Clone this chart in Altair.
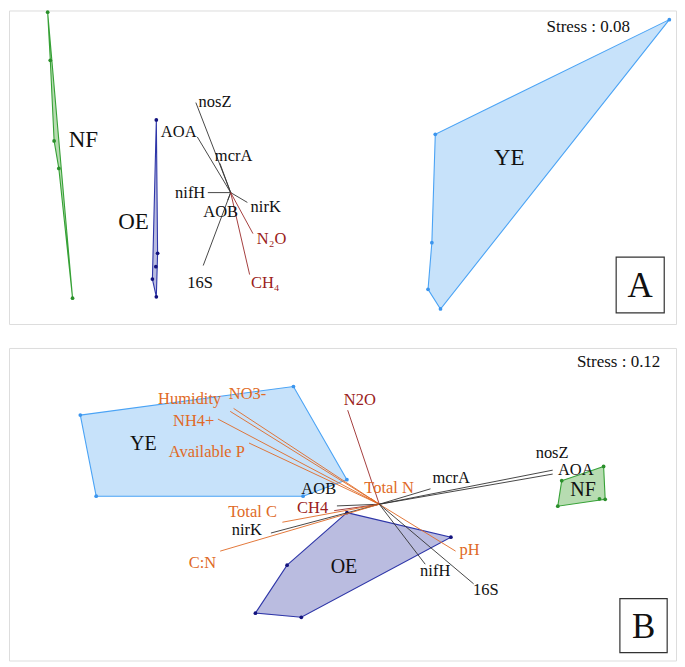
import altair as alt
import pandas as pd

FONT = "Liberation Serif"
ORANGE = "#e06a26"
DARKRED = "#9b1c20"
BLACK = "#111111"
VEC = "#333333"

# ---------------- Panel A (ordination coordinates, plot units) ----------------
a_groups = ["NF", "OE", "YE"]
a_nf_x = [42.4, 45.1, 49.0, 53.8, 67.8]
a_nf_y = [4.7, 53.7, 135.7, 163.7, 295.7]
a_oe_x = [153.2, 154.5, 152.7, 149.2, 153.2]
a_oe_y = [114.3, 250.0, 263.7, 276.3, 294.3]
a_ye_x = [676.2, 437.6, 434.1, 430.2, 442.9]
a_ye_y = [12.3, 129.0, 239.3, 286.7, 306.7]
a_hulls = {"NF": [0, 1, 2, 3, 4], "OE": [0, 1, 4, 3], "YE": [0, 4, 3, 2, 1]}
a_group_lx = [78.8, 130.0, 513.0]
a_group_ly = [135.0, 218.3, 152.7]

a_center = (229.0, 188.3)
a_vec_names = ["nosZ", "AOA", "mcrA", "nifH", "nirK", "AOB", "16S", "N₂O", "CH₄"]
a_vec_x = [193.5, 195.0, 218.0, 205.7, 246.0, 226.0, 201.0, 251.7, 248.3]
a_vec_y = [96.7, 131.7, 158.5, 188.3, 198.3, 196.0, 262.5, 230.0, 271.7]
a_vec_kind = ["gene"] * 7 + ["gas"] * 2
a_lab_x = [213.0, 176.0, 232.0, 187.7, 264.7, 218.8, 197.8, 270.7, 264.2]
a_lab_y = [96.0, 126.5, 151.0, 188.3, 203.3, 207.7, 280.0, 235.0, 280.0]

# ---------------- Panel B ----------------
b_groups = ["NF", "OE", "YE"]
b_nf_x = [566.5, 609.2, 610.8, 605.0, 562.5]
b_nf_y = [480.0, 465.5, 499.0, 498.5, 506.0]
b_oe_x = [347.5, 453.5, 301.0, 254.2, 286.5]
b_oe_y = [512.5, 537.5, 619.0, 614.8, 566.0]
b_ye_x = [75.7, 293.0, 347.5, 302.8, 91.9]
b_ye_y = [413.3, 384.2, 479.0, 495.8, 495.8]
b_hulls = {"NF": [0, 1, 2, 4], "OE": [0, 1, 2, 3, 4], "YE": [0, 1, 2, 3, 4]}
b_group_lx = [588.3, 344.5, 140.0]
b_group_ly = [490.0, 567.8, 442.7]

b_center = (380.5, 504.0)
b_vec_names = ["Humidity", "NO3-", "NH4+", "Available P", "N2O", "Total N", "mcrA",
               "nosZ", "AOA", "AOB", "CH4", "Total C", "nirK", "C:N", "pH", "nifH", "16S"]
b_vec_x = [228.5, 232.0, 216.0, 247.7, 348.3, 372.0, 432.7, 557.3, 557.3, 337.3,
           334.5, 281.7, 270.0, 218.3, 458.3, 427.3, 476.7]
b_vec_y = [409.5, 406.5, 417.3, 441.7, 408.3, 498.0, 488.3, 469.3, 473.3, 505.7,
           510.5, 522.3, 533.3, 551.7, 551.7, 565.0, 585.0]
b_vec_kind = ["env", "env", "env", "env", "gas", "env", "gene", "gene", "gene", "gene",
              "gas", "env", "gene", "env", "env", "gene", "gene"]
b_lab_x = [187.2, 246.2, 191.3, 204.7, 360.7, 390.5, 453.8, 556.7, 580.8, 318.8,
           312.5, 251.3, 245.5, 200.3, 472.5, 437.5, 489.2]
b_lab_y = [396.7, 392.3, 419.3, 451.0, 398.3, 487.3, 477.3, 451.7, 469.3, 488.5,
           508.0, 511.7, 530.7, 563.3, 550.7, 571.7, 591.7]

GROUP_STYLE = {
    "NF": {"stroke": "#36a136", "fill": "#b7dcb1", "pt": "#2a8f2a"},
    "OE": {"stroke": "#2e36a8", "fill": "#babce0", "pt": "#12127e"},
    "YE": {"stroke": "#4aa3f5", "fill": "#c7e2fa", "pt": "#3b95ee"},
}
KIND_VEC = {"gene": VEC, "gas": "#9b2a2a", "env": ORANGE}
KIND_TXT = {"gene": BLACK, "gas": DARKRED, "env": ORANGE}


def panel(xs, ys, hulls, groups, glx, gly, gsize, center, vnames, vx, vy, vkind,
          lx, ly, stress, stress_xy, letter, box, xdom, ydom, w, h):
    X = lambda f: alt.X(f, type="quantitative", scale=alt.Scale(domain=xdom, nice=False, zero=False), axis=None)
    Y = lambda f: alt.Y(f, type="quantitative", scale=alt.Scale(domain=ydom, nice=False, zero=False, reverse=True), axis=None)
    layers = []
    pts = []
    for g, gx, gy in zip(groups, xs, ys):
        idx = hulls[g] + [hulls[g][0]]
        poly = pd.DataFrame({"x": [gx[i] for i in idx], "y": [gy[i] for i in idx], "o": list(range(len(idx)))})
        st = GROUP_STYLE[g]
        layers.append(alt.Chart(poly).mark_line(fill=st["fill"], stroke=st["stroke"], strokeWidth=1.1,
                                                 fillOpacity=1).encode(x=X("x"), y=Y("y"), order="o:Q"))
        for a, b in zip(gx, gy):
            pts.append({"x": a, "y": b, "c": st["pt"]})
    layers.append(alt.Chart(pd.DataFrame(pts)).mark_circle(size=14, opacity=1).encode(
        x=X("x"), y=Y("y"), color=alt.Color("c:N", scale=None)))
    vec = pd.DataFrame({"x": [center[0]] * len(vx), "y": [center[1]] * len(vy), "x2": vx, "y2": vy,
                        "c": [KIND_VEC[k] for k in vkind]})
    layers.append(alt.Chart(vec).mark_rule(strokeWidth=0.9).encode(
        x=X("x"), y=Y("y"), x2="x2", y2="y2", color=alt.Color("c:N", scale=None)))
    lab = pd.DataFrame({"x": lx, "y": ly, "t": vnames, "c": [KIND_TXT[k] for k in vkind]})
    layers.append(alt.Chart(lab).mark_text(font=FONT, fontSize=16.5, align="center", baseline="middle").encode(
        x=X("x"), y=Y("y"), text="t:N", color=alt.Color("c:N", scale=None)))
    glab = pd.DataFrame({"x": glx, "y": gly, "t": groups})
    layers.append(alt.Chart(glab).mark_text(font=FONT, fontSize=gsize, align="center", baseline="middle",
                                            color=BLACK).encode(x=X("x"), y=Y("y"), text="t:N"))
    sdf = pd.DataFrame({"x": [stress_xy[0]], "y": [stress_xy[1]], "t": [stress]})
    layers.append(alt.Chart(sdf).mark_text(font=FONT, fontSize=17, align="center", baseline="middle",
                                           color=BLACK).encode(x=X("x"), y=Y("y"), text="t:N"))
    bdf = pd.DataFrame({"x": [box[0]], "x2": [box[1]], "y": [box[2]], "y2": [box[3]],
                        "cx": [(box[0] + box[1]) / 2], "cy": [(box[2] + box[3]) / 2], "t": [letter]})
    layers.append(alt.Chart(bdf).mark_rect(fill="white", stroke="#333333", strokeWidth=1.2).encode(
        x=X("x"), x2="x2", y=Y("y"), y2="y2"))
    layers.append(alt.Chart(bdf).mark_text(font=FONT, fontSize=35, align="center", baseline="middle",
                                           color=BLACK, dy=1).encode(x=X("cx"), y=Y("cy"), text="t:N"))
    return alt.layer(*layers).properties(width=w, height=h)


pa = panel([a_nf_x, a_oe_x, a_ye_x], [a_nf_y, a_oe_y, a_ye_y], a_hulls, a_groups, a_group_lx, a_group_ly, 23,
           a_center, a_vec_names, a_vec_x, a_vec_y, a_vec_kind, a_lab_x, a_lab_y,
           "Stress : 0.08", (593.5, 20.0), "A", (622.0, 671.0, 254.0, 310.7),
           [3, 683], [3, 322], 668, 314)
pb = panel([b_nf_x, b_oe_x, b_ye_x], [b_nf_y, b_oe_y, b_ye_y], b_hulls, b_groups, b_group_lx, b_group_ly, 20,
           b_center, b_vec_names, b_vec_x, b_vec_y, b_vec_kind, b_lab_x, b_lab_y,
           "Stress : 0.12", (624.5, 359.0), "B", (625.8, 674.0, 600.0, 655.0),
           [3, 683], [345, 663], 668, 313)

chart = alt.vconcat(pa, pb, spacing=22).properties(padding=0).configure_view(
    stroke="#8f8f8f", strokeWidth=1.6
).configure(background="white")

chart.save("out.html", embed_options={"renderer": "svg", "actions": False})
